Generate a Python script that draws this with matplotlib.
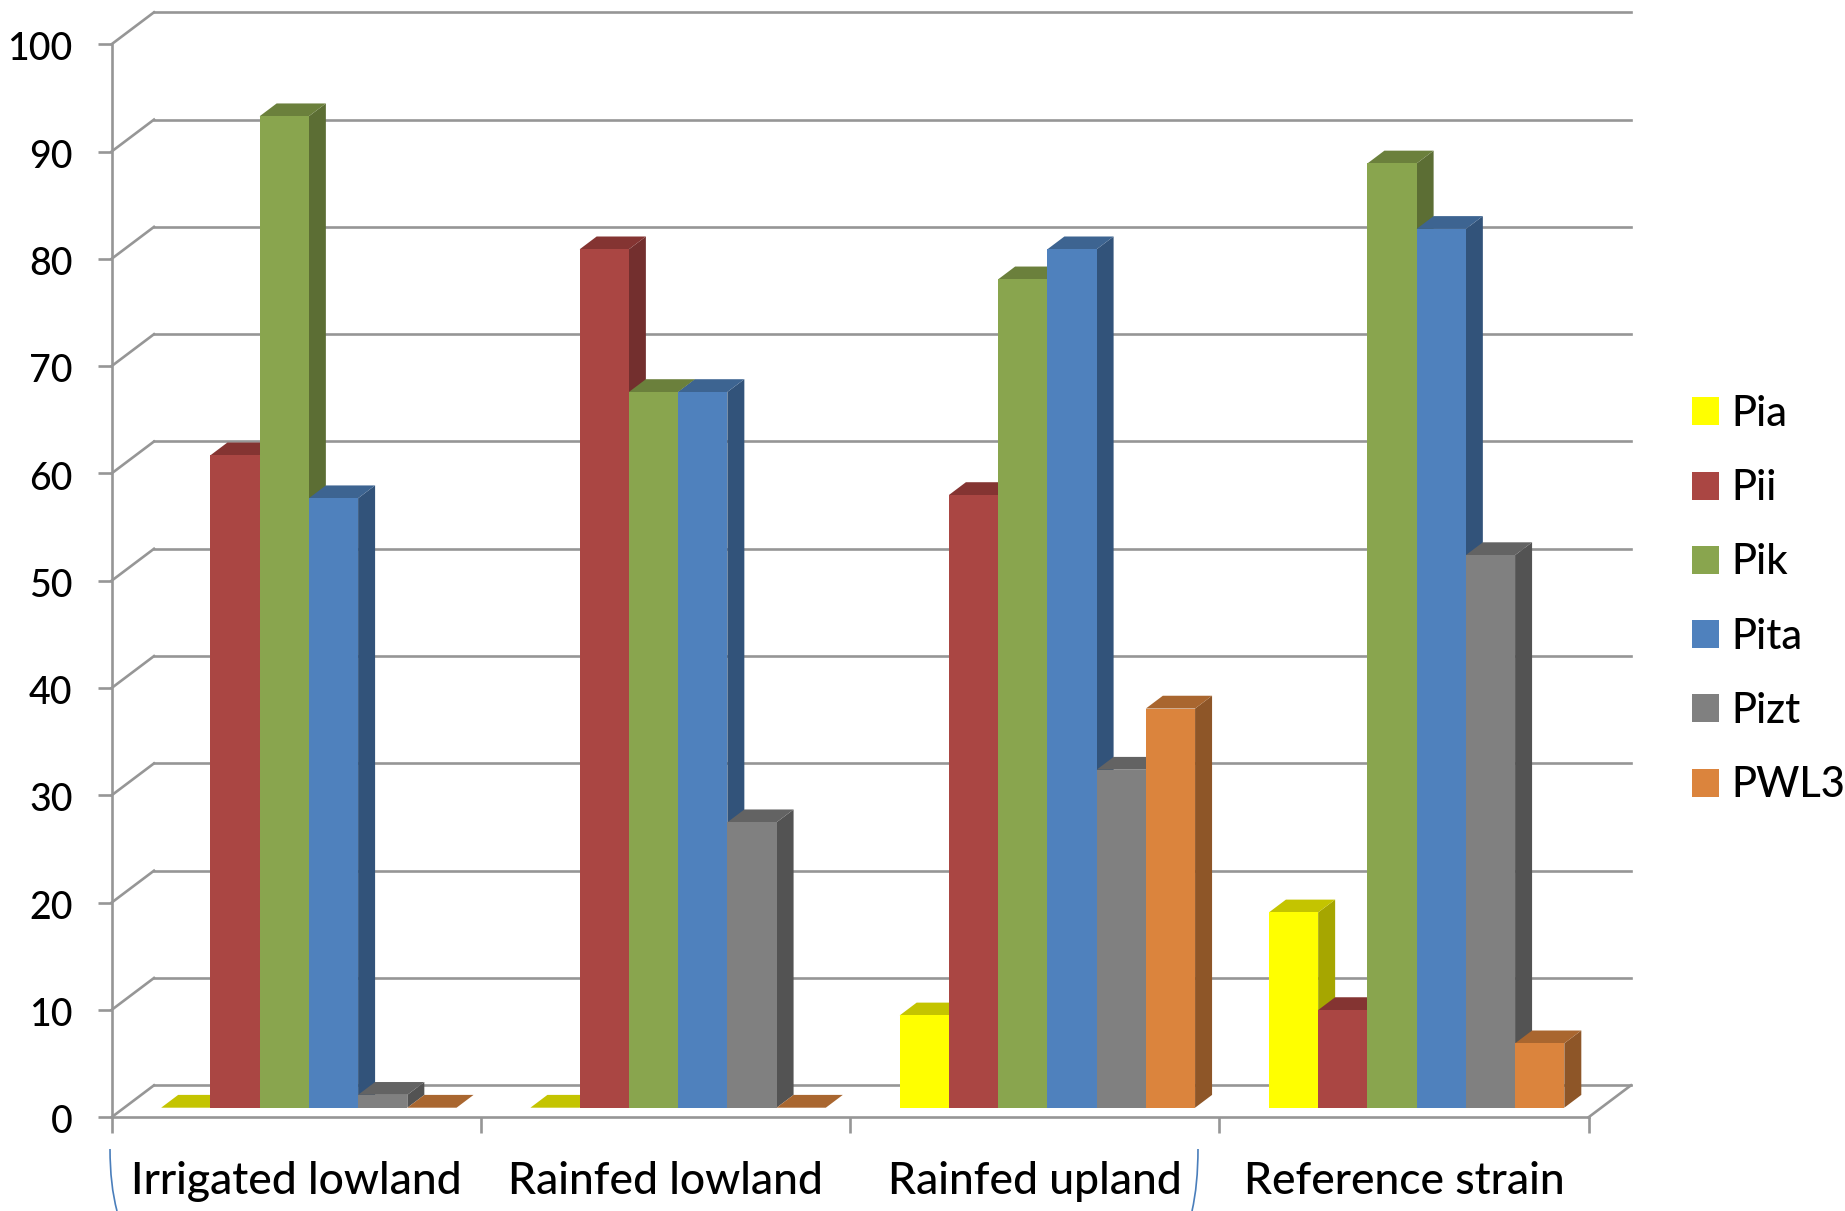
import matplotlib
matplotlib.use("Agg")
import matplotlib.pyplot as plt
import numpy as np
from matplotlib.patches import Patch, PathPatch
from matplotlib.path import Path
from matplotlib.transforms import ScaledTranslation

plt.rcParams['font.family'] = ['Lato', 'DejaVu Sans']
plt.rcParams['font.weight'] = 500

categories = ["Irrigated lowland", "Rainfed lowland", "Rainfed upland", "Reference strain"]
series_names = ["Pia", "Pii", "Pik", "Pita", "Pizt", "PWL3"]

pia = [0, 0, 8.6, 18.2]
pii = [60.8, 80, 57.1, 9.1]
pik = [92.4, 66.7, 77.2, 88]
pita = [56.8, 66.7, 80, 81.9]
pizt = [1.2, 26.6, 31.5, 51.5]
pwl3 = [0, 0, 37.2, 6]

y_ticks = [0, 10, 20, 30, 40, 50, 60, 70, 80, 90, 100]

front_colors = ["#FFFF00", "#AA4643", "#89A54E", "#4F81BD", "#808080", "#DB843D"]
top_colors = ["#C4C400", "#843432", "#6B803C", "#3D6491", "#636363", "#A9662F"]
side_colors = ["#A6A600", "#732F2E", "#5C6E34", "#32537A", "#535353", "#8E5628"]

GRID = "#969696"
LW = 1.9
W, H = 1845, 1211

# oblique projection: a full step back in depth, in data units
DEPTH_X = 42.5 / 369.4
DEPTH_Y = 32 / 10.73
BAR_W = 1 / 7.5


def project(x, y, f):
    return x + f * DEPTH_X, y + f * DEPTH_Y


def draw_bar(ax, x, value, color_i, z):
    f0, f1 = 0.3, 0.7
    x0, base = project(x, 0, f0)
    ax.bar(x0, value, BAR_W, bottom=base, align='edge', color=front_colors[color_i],
           linewidth=0, zorder=z + 0.2, clip_on=False)

    corners = [project(x, value, f0), project(x + BAR_W, value, f0),
               project(x + BAR_W, value, f1), project(x, value, f1)]
    xs, ys = zip(*corners)
    ax.fill(xs, ys, color=top_colors[color_i], linewidth=0, zorder=z + 0.1, clip_on=False)

    if value > 0:
        corners = [project(x + BAR_W, 0, f0), project(x + BAR_W, value, f0),
                   project(x + BAR_W, value, f1), project(x + BAR_W, 0, f1)]
        xs, ys = zip(*corners)
        ax.fill(xs, ys, color=side_colors[color_i], linewidth=0, zorder=z, clip_on=False)


fig = plt.figure(figsize=(W / 100, H / 100), dpi=100)
ax = fig.add_axes([111.5 / W, (H - 1117.3) / H, (1588.5 - 111.5) / W, (1117.3 - 44.3) / H])
ax.set_xlim(0, 4)
ax.set_ylim(0, 100)

# back wall and side wall lines
for v in y_ticks:
    bx, by = project(0, v, 1)
    ex, ey = project(4, v, 1)
    ax.plot([bx, ex], [by, ey], color=GRID, lw=LW, zorder=1, clip_on=False)
    ax.plot([0, bx], [v, by], color=GRID, lw=LW, zorder=1, clip_on=False)
bx, by = project(4, 0, 1)
ax.plot([4, bx], [0, by], color=GRID, lw=LW, zorder=1, clip_on=False)

all_values = [pia, pii, pik, pita, pizt, pwl3]
for i in range(len(categories)):
    for j, values in enumerate(all_values):
        draw_bar(ax, i + 0.75 * BAR_W + j * BAR_W, values[i], j, 2 + i * 10 + j)

for side in ['top', 'right']:
    ax.spines[side].set_visible(False)
for side in ['left', 'bottom']:
    ax.spines[side].set_color(GRID)
    ax.spines[side].set_linewidth(LW)

ax.set_yticks(y_ticks)
ax.tick_params(axis='y', length=10, width=LW, color=GRID, pad=18, labelsize=27)
for label in ax.get_yticklabels():
    label.set_transform(label.get_transform() + ScaledTranslation(0, -1.5 / 72, fig.dpi_scale_trans))
ax.set_xticks(range(5))
ax.set_xticklabels([])
ax.tick_params(axis='x', which='major', length=11.5, width=LW, color=GRID)
ax.set_xticks(np.arange(len(categories)) + 0.5, categories, minor=True)
ax.tick_params(axis='x', which='minor', length=0, pad=31.5, labelsize=32)

# the two thin blue arcs below the axis
for (x0, y0, xc, yc, x1, y1) in [(110, 1149, 110, 1185, 117, 1211), (1198, 1149, 1198, 1185, 1192, 1211)]:
    verts = [(x0 / W, 1 - y0 / H), (xc / W, 1 - yc / H), (x1 / W, 1 - y1 / H)]
    arc = Path(verts, [Path.MOVETO, Path.CURVE3, Path.CURVE3])
    fig.add_artist(PathPatch(arc, fill=False, edgecolor="#4A7EBB", lw=1.2, transform=fig.transFigure))

handles = [Patch(facecolor=c, linewidth=0, label=n) for c, n in zip(front_colors, series_names)]
fig.legend(handles=handles, loc='upper left', bbox_to_anchor=(1692 / W, 1 - 395 / H), frameon=False,
           fontsize=30, handlelength=0.65, handleheight=0.65, handletextpad=0.29,
           labelspacing=0.87, borderpad=0, borderaxespad=0)

fig.savefig("out.png", dpi=100, facecolor="white")
